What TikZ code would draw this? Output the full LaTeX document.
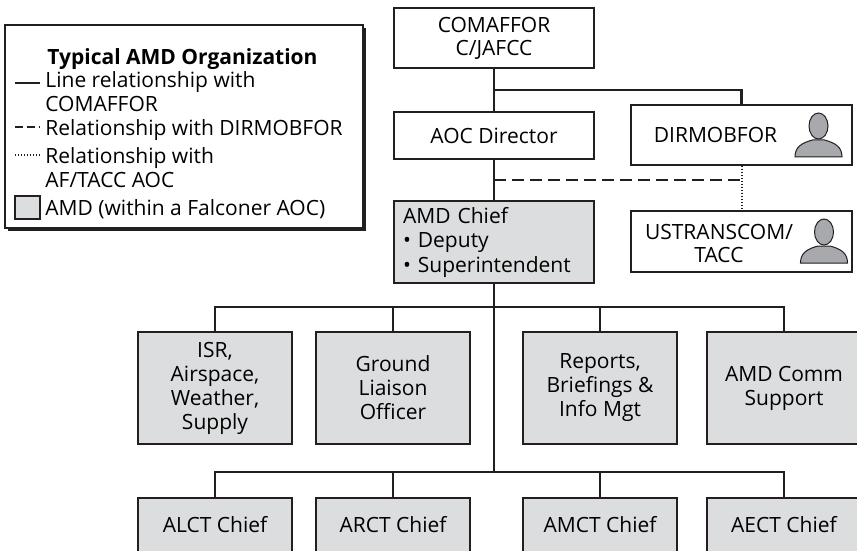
\documentclass[tikz,border=0pt]{standalone}
\usepackage{fontspec}
\setmainfont{Open Sans}
\definecolor{boxgray}{RGB}{220,221,222}
\definecolor{icongray}{RGB}{167,169,172}
\definecolor{ink}{RGB}{35,31,32}
\tikzset{
  box/.style={draw=ink, line width=0.6pt, fill=white, inner sep=0pt, align=center,
    font=\fontsize{10.5}{11.5}\selectfont},
  graybox/.style={box, fill=boxgray, font=\fontsize{10.5}{12}\selectfont},
  conn/.style={draw=ink, line width=1.2pt},
  legtext/.style={anchor=base west, inner sep=0pt, font=\fontsize{10.5}{11.5}\selectfont},
  person/.pic={
    \filldraw[fill=icongray, draw=ink, line width=0.5pt]
      (-23.5,0) .. controls (-23.5,-10) and (-17,-14) .. (-6,-17)
      -- (6,-17) .. controls (17,-14) and (23.5,-10) .. (23.5,0) -- cycle;
    \filldraw[fill=icongray, draw=ink, line width=0.5pt] (0,-31) ellipse (9.5 and 13);
  }
}
\begin{document}
\begin{tikzpicture}[x=0.5pt,y=-0.5pt]
\clip (0,0) rectangle (857,551);
% legend
\fill[ink] (8,28) rectangle (366,231);
\draw[ink, fill=white, line width=0.6pt] (5,25) rectangle (363,228);
\node[anchor=base, inner sep=0pt, font=\fontsize{10.5}{11.5}\selectfont\bfseries] (legtitle) at (182.5,65) {Typical AMD Organization};
\draw[conn, line width=1pt] (15,83) -- (40,83);
\node[legtext] (leg1a) at (45,88) {Line relationship with};
\node[legtext] (leg1b) at (45,112) {COMAFFOR};
\draw[conn, line width=1pt, dash pattern=on 4pt off 2pt] (15,127) -- (40,127);
\node[legtext] (leg2) at (45,135) {Relationship with DIRMOBFOR};
\draw[conn, line width=1pt, dash pattern=on 0.7pt off 0.8pt] (15,155) -- (40,155);
\node[legtext] (leg3a) at (45,163) {Relationship with};
\node[legtext] (leg3b) at (45,187) {AF/TACC AOC};
\draw[ink, fill=boxgray, line width=0.6pt] (15,196) rectangle (40,219);
\node[legtext] (leg4) at (45,215) {AMD (within a Falconer AOC)};

% top of the chart
\node[box, minimum width=100pt, minimum height=30pt] (comaffor) at (494,38) {COMAFFOR\\C/JAFCC};
\node[box, minimum width=100pt, minimum height=23.5pt] (aocdir) at (494,135.5) {AOC Director};
\node[box, minimum width=110.5pt, minimum height=30pt] (dirmob) at (741.5,135) {};
\node[box, draw=none, fill=none] (dirmobtxt) at (715.5,135) {DIRMOBFOR};
\pic at (818.5,157) {person};
\node[box, minimum width=110.5pt, minimum height=30.5pt] (ustrans) at (741.5,241.5) {};
\node[box, draw=none, fill=none] (ustranstxt) at (719,243) {USTRANSCOM/\\TACC};
\pic at (824,263) {person};
\node[graybox, minimum width=100pt, minimum height=41pt, text width=91pt, inner xsep=4.5pt, align=left,
  font=\fontsize{10.5}{12.25}\selectfont] (amdchief) at (494,242) {AMD Chief\\\textbullet{} Deputy\\\textbullet{} Superintendent};

\coordinate (jtop) at (494,90);
\coordinate (jdash) at (494,180);
\draw[conn] (comaffor) -- (aocdir);
\draw[conn] (jtop) -| (dirmob.north);
\draw[conn, line width=1pt, dash pattern=on 6pt off 3pt] (jdash) -- (jdash -| dirmob.south);
\draw[conn, line width=1pt, dash pattern=on 0.7pt off 0.8pt] (dirmob.south) -- (ustrans.north);
\draw[conn] (aocdir) -- (amdchief);

% divisions
\node[graybox, minimum width=77pt, minimum height=56pt] (isr) at (215,388) {ISR,\\Airspace,\\Weather,\\Supply};
\node[graybox, minimum width=77pt, minimum height=56pt] (glo) at (393,388) {Ground\\Liaison\\Officer};
\node[graybox, minimum width=77pt, minimum height=56pt] (rep) at (600,388) {Reports,\\Briefings \&\\Info Mgt};
\node[graybox, minimum width=77pt, minimum height=56pt] (comm) at (784,388) {AMD Comm\\Support};

\node[graybox, minimum width=77pt, minimum height=27pt] (alct) at (215,525) {ALCT Chief};
\node[graybox, minimum width=77pt, minimum height=27pt] (arct) at (393,525) {ARCT Chief};
\node[graybox, minimum width=77pt, minimum height=27pt] (amct) at (600,525) {AMCT Chief};
\node[graybox, minimum width=77pt, minimum height=27pt] (aect) at (784,525) {AECT Chief};

\coordinate (busup) at (494,307);
\coordinate (buslow) at (494,472);
\draw[conn] (amdchief) -- (buslow);
\draw[conn] (isr.north) |- (busup) -| (comm.north);
\draw[conn] (glo.north) -- (glo.north |- busup);
\draw[conn] (rep.north) -- (rep.north |- busup);
\draw[conn] (alct.north) |- (buslow) -| (aect.north);
\draw[conn] (arct.north) -- (arct.north |- buslow);
\draw[conn] (amct.north) -- (amct.north |- buslow);
\end{tikzpicture}
\end{document}
